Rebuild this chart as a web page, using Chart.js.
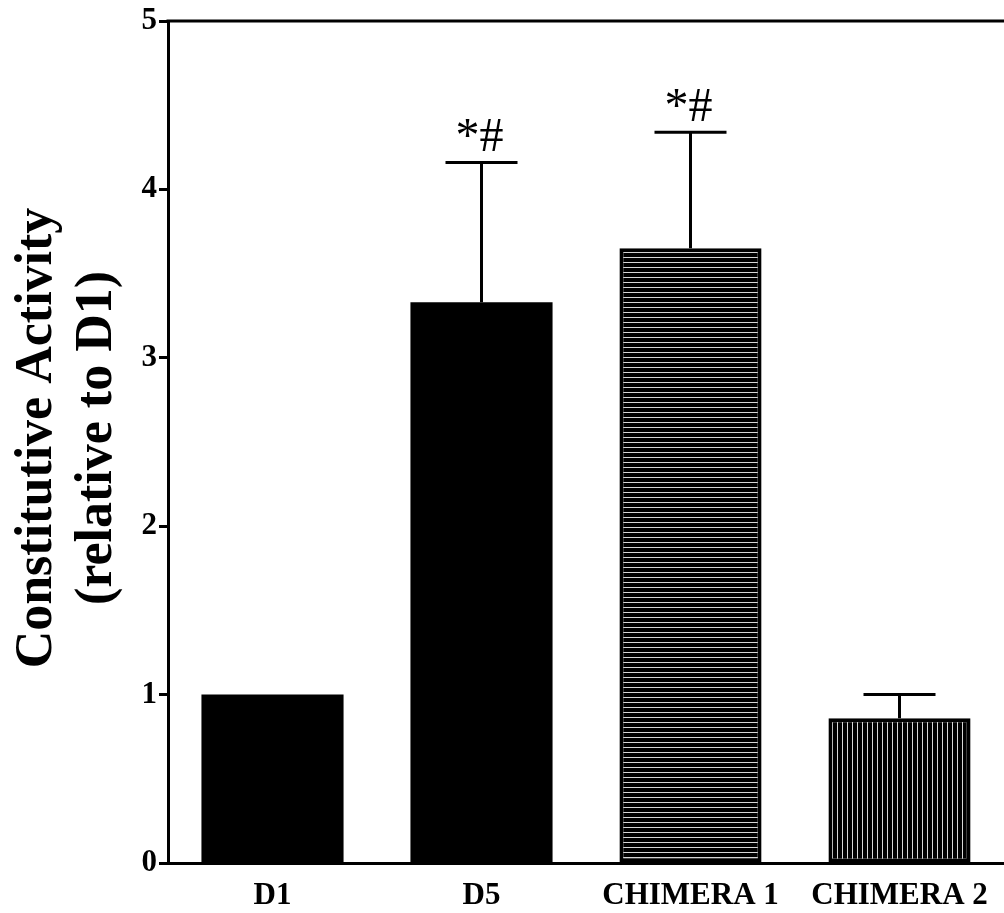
<!DOCTYPE html>
<html>
<head>
<meta charset="utf-8">
<script src="https://cdn.jsdelivr.net/npm/chart.js@4.4.1/dist/chart.umd.min.js"></script>
<style>
  html, body { margin: 0; padding: 0; background: #fff; }
  #wrap { width: 1004px; height: 913px; }
</style>
</head>
<body>
<div id="wrap"><canvas id="c" width="1004" height="913"></canvas></div>
<script>
// Constructs and their constitutive activity (normalised to D1)
const categories = ['D1', 'D5', 'CHIMERA 1', 'CHIMERA 2'];
const activity = [1.0, 3.33, 3.65, 0.86];
const sem = [0, 0.83, 0.69, 0.14];
const significance = ['', '*#', '*#', ''];
const yTicks = [0, 1, 2, 3, 4, 5];
const yTitle = ['Constitutive Activity', '(relative to D1)'];

const SERIF = '"Liberation Serif", "Times New Roman", serif';

// Striped fills: horizontal lines for chimera 1, vertical lines for chimera 2
function stripes(vertical) {
  const t = document.createElement('canvas');
  t.width = 5; t.height = 5;
  const g = t.getContext('2d');
  g.fillStyle = '#000';
  g.fillRect(0, 0, 5, 5);
  g.fillStyle = '#d8d8d8';
  if (vertical) g.fillRect(2, 0, 1, 5); else g.fillRect(0, 2, 5, 1);
  return document.getElementById('c').getContext('2d').createPattern(t, 'repeat');
}
const fills = ['#000', '#000', stripes(false), stripes(true)];
const outlines = [0, 0, 4, 4];

// Error bars (upper only), significance marks and the top frame line
const extras = {
  id: 'extras',
  afterDatasetsDraw(chart) {
    const ctx = chart.ctx;
    const y = chart.scales.y;
    const meta = chart.getDatasetMeta(0);
    ctx.save();
    ctx.strokeStyle = '#000';
    ctx.fillStyle = '#000';
    ctx.lineWidth = 3;
    meta.data.forEach((bar, i) => {
      const x = bar.x;
      const top = y.getPixelForValue(activity[i] + sem[i]);
      if (sem[i] > 0) {
        ctx.beginPath();
        ctx.moveTo(x, bar.y);
        ctx.lineTo(x, top);
        ctx.moveTo(x - 36, top);
        ctx.lineTo(x + 36, top);
        ctx.stroke();
      }
      if (significance[i]) {
        ctx.font = '48px ' + SERIF;
        ctx.textAlign = 'center';
        ctx.textBaseline = 'alphabetic';
        ctx.fillText(significance[i], x - 2, top - 11);
      }
    });
    const a = chart.chartArea;
    ctx.beginPath();
    ctx.moveTo(a.left - 1.5, a.top);
    ctx.lineTo(a.right, a.top);
    ctx.stroke();
    ctx.restore();
  },
  afterDraw(chart) {
    const ctx = chart.ctx;
    ctx.save();
    ctx.fillStyle = '#000';
    ctx.font = 'bold 52px ' + SERIF;
    ctx.textAlign = 'center';
    ctx.textBaseline = 'alphabetic';
    const cy = 438;
    const baselines = [51, 111];
    yTitle.forEach((line, k) => {
      ctx.save();
      ctx.translate(baselines[k], cy);
      ctx.rotate(-Math.PI / 2);
      ctx.fillText(line, 0, 0);
      ctx.restore();
    });
    ctx.restore();
  }
};

new Chart(document.getElementById('c'), {
  type: 'bar',
  data: {
    labels: categories,
    datasets: [{
      data: activity,
      backgroundColor: fills,
      borderColor: '#000',
      borderWidth: outlines,
      borderSkipped: false,
      categoryPercentage: 1.0,
      barPercentage: 0.68
    }]
  },
  options: {
    responsive: false,
    animation: false,
    devicePixelRatio: 1,
    layout: { padding: { top: 21, right: 0, bottom: 0, left: 0 } },
    plugins: { legend: { display: false }, tooltip: { enabled: false } },
    scales: {
      x: {
        grid: { display: false, drawTicks: false },
        border: { display: true, color: '#000', width: 3 },
        ticks: {
          color: '#000',
          padding: 14,
          font: { family: SERIF, size: 31, weight: 'bold' }
        },
        afterFit(s) { s.height = 50; }
      },
      y: {
        min: 0,
        max: 5,
        afterBuildTicks(s) { s.ticks = yTicks.map(v => ({ value: v })); },
        grid: { drawOnChartArea: false, drawTicks: true, tickLength: 9, tickColor: '#000', tickWidth: 3 },
        border: { display: true, color: '#000', width: 3 },
        ticks: {
          color: '#000',
          padding: 2,
          font: { family: SERIF, size: 31, weight: 'bold' }
        },
        afterFit(s) { s.width = 168; }
      }
    }
  },
  plugins: [extras]
});
</script>
</body>
</html>
